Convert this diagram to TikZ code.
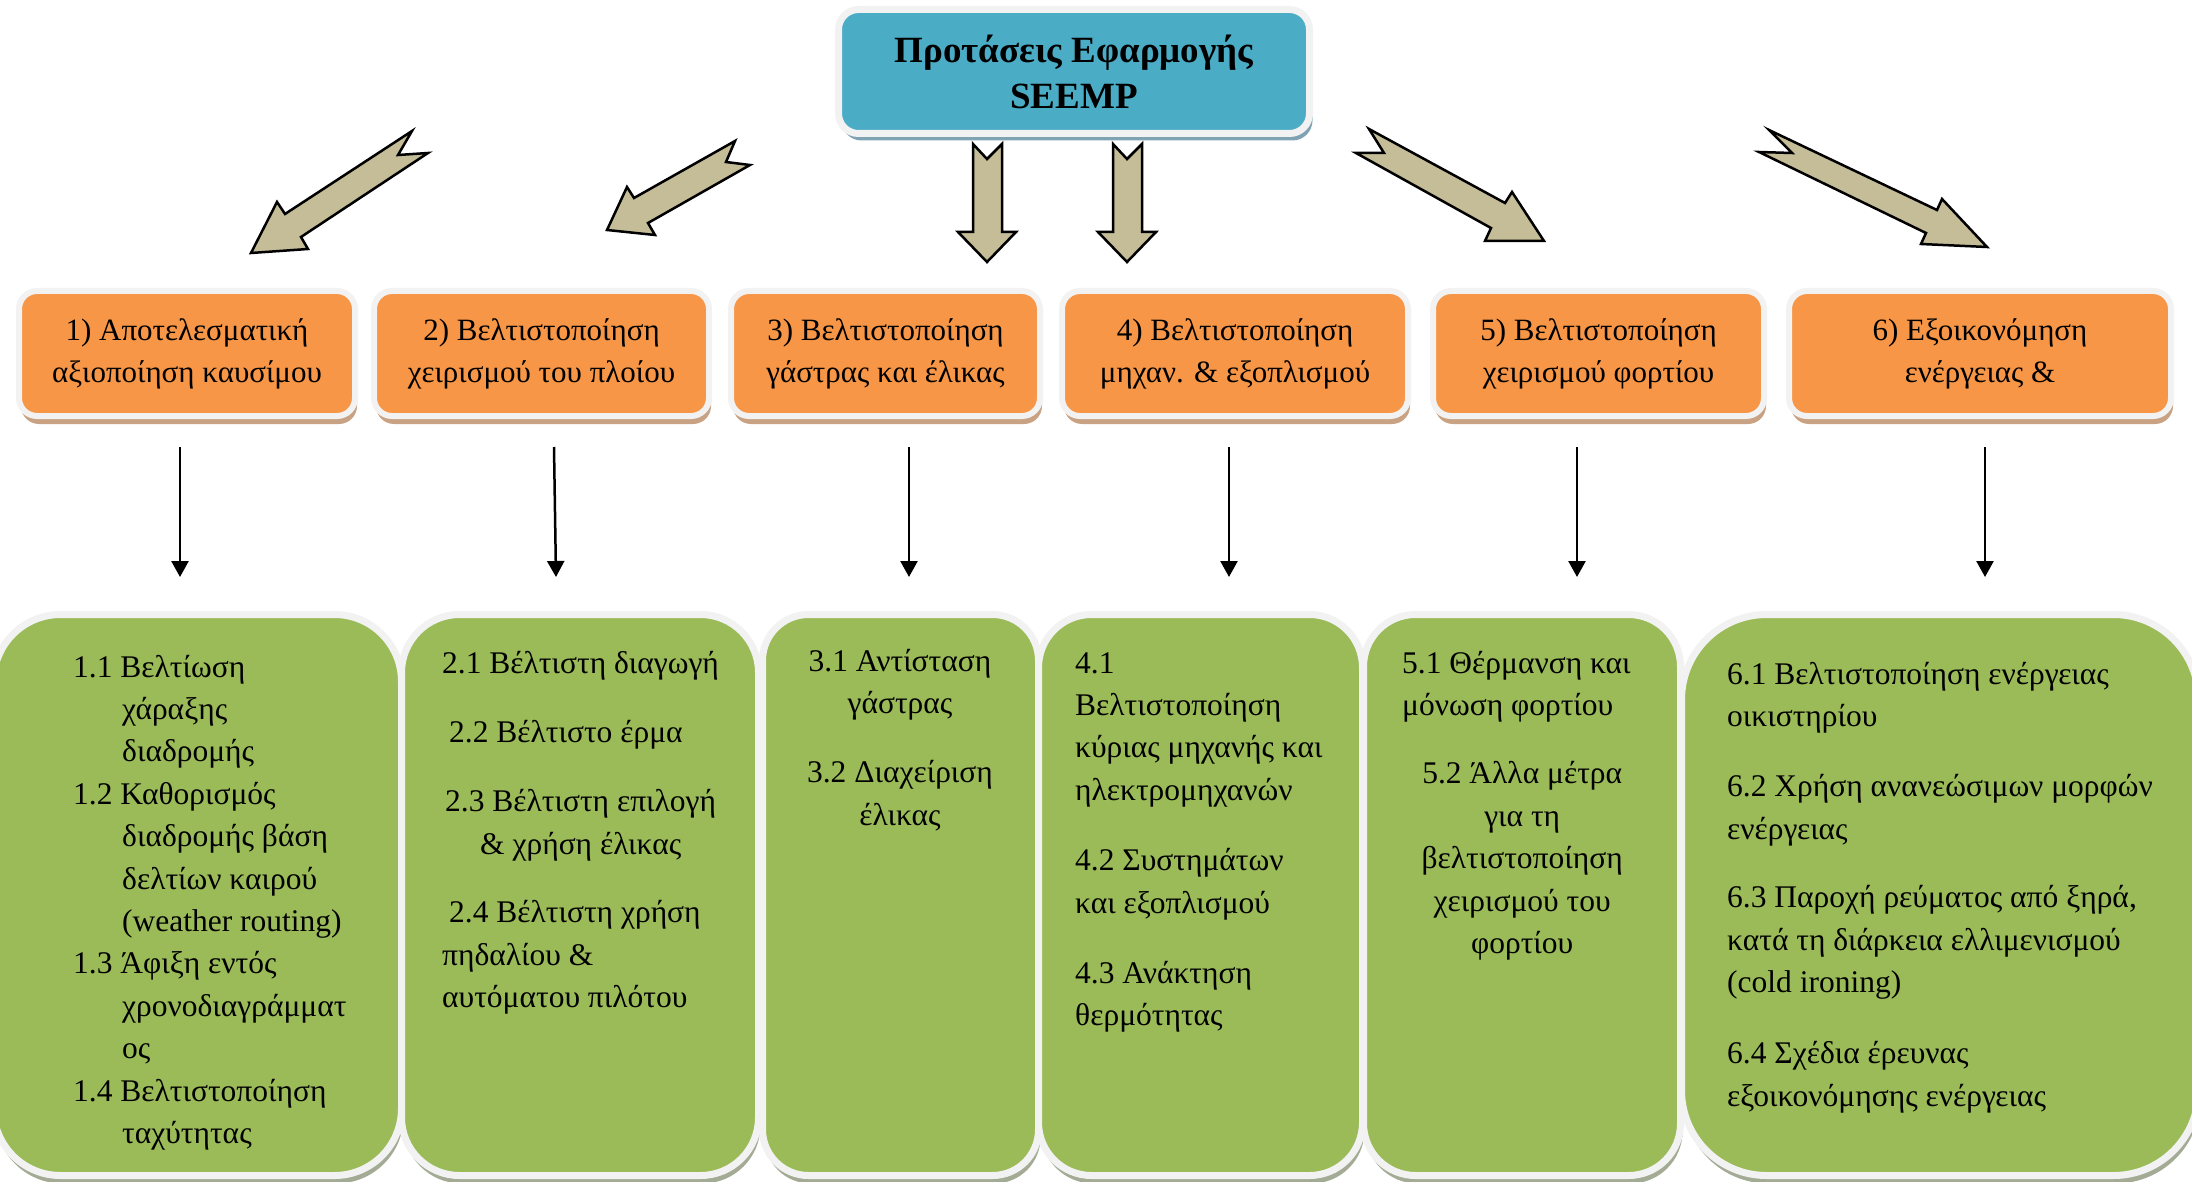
\documentclass[tikz,border=0pt]{standalone}
\usepackage{fontspec}
\setmainfont{Liberation Serif}
\usetikzlibrary{arrows.meta,shadows}
\definecolor{seblue}{HTML}{4BACC6}
\definecolor{seorange}{HTML}{F79646}
\definecolor{segreen}{HTML}{9BBB59}
\definecolor{setan}{HTML}{C4BD97}
\definecolor{seframe}{HTML}{F2F2F2}
\definecolor{shblue}{HTML}{7FA3B3}
\definecolor{shorange}{HTML}{C9A283}
\definecolor{shgreen}{HTML}{A3AB95}
\begin{document}
\begin{tikzpicture}[x=1pt,y=-1pt,
  topbox/.style={draw=seframe, line width=7pt, fill=seblue, rounded corners=20pt,
    minimum width=471pt, minimum height=124pt, inner sep=0pt, align=center,
    font=\fontsize{37}{46}\selectfont\bfseries,
    drop shadow={shadow xshift=3pt, shadow yshift=-7pt, fill=shblue, opacity=1}},
  catbox/.style={draw=seframe, line width=6pt, fill=seorange, rounded corners=18pt,
    minimum height=125pt, inner sep=0pt, align=center,
    font=\fontsize{31}{42}\selectfont,
    drop shadow={shadow xshift=2pt, shadow yshift=-8pt, fill=shorange, opacity=1}},
  listbox/.style={draw=seframe, line width=7pt, fill=segreen, minimum height=561pt,
    inner sep=0pt,
    drop shadow={shadow xshift=2pt, shadow yshift=-8pt, fill=shgreen, opacity=1}},
  listtext/.style={inner sep=0pt, anchor=north west, align=left,
    font=\fontsize{31.5}{42.4}\selectfont},
  thinarrow/.style={line width=2.5pt, -{Triangle[width=17pt,length=16pt]}},
  blockarrow/.style={draw=black, line width=2.5pt, fill=setan, line join=miter}
]
\useasboundingbox (0,0) rectangle (2192,1182);

% top box
\node[topbox] (top) at (1074,71.5) {Προτάσεις Εφαρμογής\\SEEMP};

% block arrows
\draw[blockarrow] (412,131) -- (285,214) -- (277,202) -- (251,253) -- (308,249) -- (301,237) -- (428,153) -- (398,155) -- cycle;
\draw[blockarrow] (735,141) -- (634,198) -- (627,187) -- (607,230) -- (655,235) -- (648,223) -- (750,165) -- (726,162) -- cycle;
\draw[blockarrow] (973,144) -- (973,232) -- (958,232) -- (987,262) -- (1016,232) -- (1002,232) -- (1002,144) -- (987,159) -- cycle;
\draw[blockarrow] (1113,144) -- (1113,232) -- (1098,232) -- (1127,262) -- (1156,232) -- (1142,232) -- (1142,144) -- (1127,159) -- cycle;
\draw[blockarrow] (1369,129) -- (1505,203) -- (1512,192) -- (1544,241) -- (1485,241) -- (1491,228) -- (1356,153) -- (1384,153) -- cycle;
\draw[blockarrow] (1769,130) -- (1937,210) -- (1942,199) -- (1987,247) -- (1921,244) -- (1926,233) -- (1759,152) -- (1792,153) -- cycle;

% category boxes
\node[catbox, minimum width=336pt] (c1) at (187,353.5) {1) Αποτελεσματική\\αξιοποίηση καυσίμου};
\node[catbox, minimum width=335pt] (c2) at (541.5,353.5) {2) Βελτιστοποίηση\\χειρισμού του πλοίου};
\node[catbox, minimum width=309pt] (c3) at (885.5,353.5) {3) Βελτιστοποίηση\\γάστρας και έλικας};
\node[catbox, minimum width=346pt] (c4) at (1235,353.5) {4) Βελτιστοποίηση\\μηχαν. \& εξοπλισμού};
\node[catbox, minimum width=331pt] (c5) at (1598.5,353.5) {5) Βελτιστοποίηση\\χειρισμού φορτίου};
\node[catbox, minimum width=382pt] (c6) at (1980,353.5) {6) Εξοικονόμηση\\ενέργειας \&};

% thin arrows
\coordinate (a1t) at (180,447);  \coordinate (a1b) at (180,577);
\coordinate (a2t) at (554,447);  \coordinate (a2b) at (556,577);
\coordinate (a3t) at (909,447);  \coordinate (a3b) at (909,577);
\coordinate (a4t) at (1229,447); \coordinate (a4b) at (1229,577);
\coordinate (a5t) at (1577,447); \coordinate (a5b) at (1577,577);
\coordinate (a6t) at (1985,447); \coordinate (a6b) at (1985,577);
\draw[thinarrow] (a1t) -- (a1b);
\draw[thinarrow] (a2t) -- (a2b);
\draw[thinarrow] (a3t) -- (a3b);
\draw[thinarrow] (a4t) -- (a4b);
\draw[thinarrow] (a5t) -- (a5b);
\draw[thinarrow] (a6t) -- (a6b);

% list boxes
\node[listbox, minimum width=408pt, rounded corners=67pt] (g1) at (197.5,895) {};
\node[listbox, minimum width=357pt, rounded corners=58pt] (g2) at (580,895) {};
\node[listbox, minimum width=276pt, rounded corners=46pt] (g3) at (900.5,895) {};
\node[listbox, minimum width=324pt, rounded corners=53pt] (g4) at (1200.5,895) {};
\node[listbox, minimum width=317pt, rounded corners=52pt] (g5) at (1522,895) {};
\node[listbox, minimum width=517pt, rounded corners=85pt] (g6) at (1940,895) {};

% list texts
\node[listtext] (t1) at (73,647.3) {\strut 1.1 Βελτίωση\\
\hspace*{49pt}χάραξης\\
\hspace*{49pt}διαδρομής\\
1.2 Καθορισμός\\
\hspace*{49pt}διαδρομής βάση\\
\hspace*{49pt}δελτίων καιρού\\
\hspace*{49pt}(weather routing)\\
1.3 Άφιξη εντός\\
\hspace*{49pt}χρονοδιαγράμματ\\
\hspace*{49pt}ος\\
1.4 Βελτιστοποίηση\\
\hspace*{49pt}ταχύτητας};

\node[listtext] (t2) at (442,643.3) {\strut 2.1 Βέλτιστη διαγωγή\\[27pt]
\hspace*{7pt}2.2 Βέλτιστο έρμα\\[27pt]
\hspace*{3pt}2.3 Βέλτιστη επιλογή\\
\hspace*{38pt}\& χρήση έλικας\\[26pt]
\hspace*{7pt}2.4 Βέλτιστη χρήση\\
πηδαλίου \&\\
αυτόματου πιλότου};

\node[listtext, anchor=north, align=center] (t3) at (900,641.3) {\strut 3.1 Αντίσταση\\
γάστρας\\[27pt]
3.2 Διαχείριση\\
έλικας};

\node[listtext] (t4) at (1075,643.3) {\strut 4.1\\
Βελτιστοποίηση\\
κύριας μηχανής και\\
ηλεκτρομηχανών\\[28pt]
4.2 Συστημάτων\\
και εξοπλισμού\\[28pt]
4.3 Ανάκτηση\\
θερμότητας};

\node[listtext] (t5) at (1402,643.3) {\strut 5.1 Θέρμανση και\\
μόνωση φορτίου\\[26pt]
\hspace*{120pt}\makebox[0pt]{5.2 Άλλα μέτρα}\\
\hspace*{120pt}\makebox[0pt]{για τη}\\
\hspace*{120pt}\makebox[0pt]{βελτιστοποίηση}\\
\hspace*{120pt}\makebox[0pt]{χειρισμού του}\\
\hspace*{120pt}\makebox[0pt]{φορτίου}};

\node[listtext] (t6) at (1727,654.3) {\strut 6.1 Βελτιστοποίηση ενέργειας\\
οικιστηρίου\\[28pt]
6.2 Χρήση ανανεώσιμων μορφών\\
ενέργειας\\[26pt]
6.3 Παροχή ρεύματος από ξηρά,\\
κατά τη διάρκεια ελλιμενισμού\\
(cold ironing)\\[29pt]
6.4 Σχέδια έρευνας\\
εξοικονόμησης ενέργειας};
\end{tikzpicture}
\end{document}
